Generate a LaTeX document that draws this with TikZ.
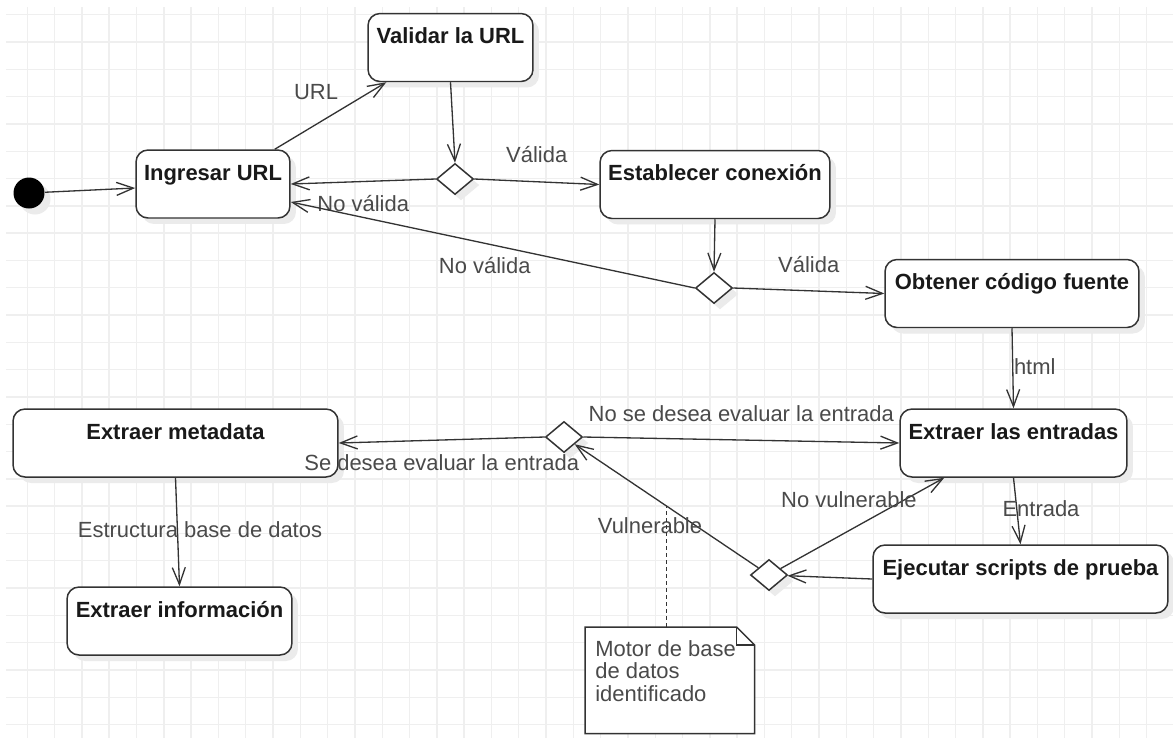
\documentclass[tikz,border=0pt]{standalone}
\usepackage{fontspec}
\setmainfont{Liberation Sans}
\usetikzlibrary{arrows.meta,shapes.geometric,shadows}
\definecolor{trazo}{HTML}{333333}
\definecolor{gris}{HTML}{4A4A4A}
\definecolor{cuadro}{HTML}{EFEFEF}
\begin{document}
\begin{tikzpicture}[x=0.02cm,y=-0.02cm,
    font=\fontsize{12.5}{14}\selectfont,
    >={Straight Barb[length=0.34cm,width=0.26cm]},
    sombra/.style={drop shadow={shadow xshift=0.12cm,shadow yshift=-0.12cm,fill=black!8,opacity=1}},
    actividad/.style={draw=trazo,line width=0.85pt,rounded corners=0.24cm,fill=white,sombra,
        font=\fontsize{12.5}{14}\selectfont\bfseries,text=black!90,
        inner ysep=0pt,text height=0.6cm,text depth=0.76cm},
    decision/.style={diamond,draw=trazo,line width=0.85pt,fill=white,sombra,
        minimum width=0.74cm,minimum height=0.62cm,inner sep=0pt},
    flujo/.style={draw=trazo,line width=0.75pt,->},
    etiqueta/.style={text=gris,inner sep=1pt}]
    \useasboundingbox (0,0) rectangle (1173,738);
    \fill[white] (0,0) rectangle (1173,738);
    \foreach \i in {1,...,42}
        \draw[cuadro,line width=0.8pt] (27.3*\i,7) -- (27.3*\i,738);
    \foreach \j in {0,...,26}
        \draw[cuadro,line width=0.8pt] (6,14.7+27.3*\j) -- (1173,14.7+27.3*\j);

    \node[circle,fill=black,minimum size=0.62cm,inner sep=0pt,sombra] (inicio) at (29,193) {};
    \node[actividad,minimum width=3.08cm] (ingresar) at (213,184) {Ingresar URL};
    \node[actividad,minimum width=3.3cm] (validar) at (450.5,47.5) {Validar la URL};
    \node[actividad,minimum width=4.6cm] (conexion) at (715,184.5) {Establecer conexión};
    \node[actividad,minimum width=5.08cm] (codigo) at (1012,293.5) {Obtener código fuente};
    \node[actividad,minimum width=4.54cm] (entradas) at (1013.5,443) {Extraer las entradas};
    \node[actividad,minimum width=6.5cm] (metadata) at (175.5,443) {Extraer metadata};
    \node[actividad,minimum width=4.5cm] (informacion) at (179.5,621) {Extraer información};
    \node[actividad,minimum width=5.9cm] (scripts) at (1020.5,579) {Ejecutar scripts de prueba};
    \node[decision] (d1) at (455,179) {};
    \node[decision] (d2) at (714,288) {};
    \node[decision] (d3) at (564,437) {};
    \node[decision] (d4) at (769,575) {};
    \node[anchor=north west,fill=white,minimum width=3.38cm,minimum height=2.12cm,inner sep=0pt] (nota) at (585,627) {};
    \node[etiqueta,align=left,anchor=north west,inner sep=0pt,font=\fontsize{12.5}{12.8}\selectfont] (notatexto)
        at ([xshift=0.2cm,yshift=-0.26cm]nota.north west) {Motor de base\\de datos\\identificado};

    \draw[flujo] (inicio) -- ([yshift=-0.08cm]ingresar.west);
    \draw[flujo] ([xshift=-0.32cm]ingresar.north east) -- node[etiqueta,xshift=-0.29cm,yshift=0.47cm]{URL} ([xshift=0.38cm]validar.south west);
    \draw[flujo] (validar.south) -- (d1.north);
    \draw[flujo] (d1.west) -- node[etiqueta,yshift=-0.45cm]{No válida} (ingresar.east);
    \draw[flujo] (d1.east) -- node[etiqueta,yshift=0.54cm]{Válida} (conexion.west);
    \draw[flujo] (conexion.south) -- (d2.north);
    \draw[flujo] (d2.west) -- node[etiqueta,xshift=-0.16cm,yshift=-0.42cm]{No válida} ([yshift=-0.36cm]ingresar.east);
    \draw[flujo] (d2.east) -- node[etiqueta,yshift=0.53cm]{Válida} (codigo.west);
    \draw[flujo] (codigo.south) -- node[etiqueta,xshift=0.44cm,yshift=0.03cm]{html} (entradas.north);
    \draw[flujo] (d3.east) -- node[etiqueta,yshift=0.52cm]{No se desea evaluar la entrada} (entradas.west);
    \draw[flujo] (d3.west) -- node[etiqueta,yshift=-0.46cm]{Se desea evaluar la entrada} (metadata.east);
    \draw[flujo] (metadata.south) -- node[etiqueta,xshift=0.45cm,yshift=0.04cm]{Estructura base de datos} (informacion.north);
    \draw[flujo] (entradas.south) -- node[etiqueta,xshift=0.48cm,yshift=0.04cm]{Entrada} (scripts.north);
    \draw[flujo] (scripts.west) -- (d4);
    \draw[flujo] (d4) -- node[etiqueta,xshift=-0.27cm,yshift=0.47cm]{No vulnerable} ([xshift=0.9cm]entradas.south west);
    \draw[flujo] (d4) -- coordinate[pos=0.5] (ancla) node[etiqueta,xshift=-0.33cm,yshift=-0.4cm]{Vulnerable} (d3);

    \draw[trazo,line width=0.85pt] (nota.north west) -- ([xshift=-0.36cm]nota.north east)
        -- ([yshift=-0.36cm]nota.north east) -- (nota.south east) -- (nota.south west) -- cycle;
    \draw[trazo,line width=0.85pt] ([xshift=-0.36cm]nota.north east) -- ([xshift=-0.36cm,yshift=-0.36cm]nota.north east)
        -- ([yshift=-0.36cm]nota.north east);
    \draw[trazo,line width=0.75pt,dash pattern=on 2pt off 2pt] (ancla |- nota.north) -- (ancla);
\end{tikzpicture}
\end{document}
